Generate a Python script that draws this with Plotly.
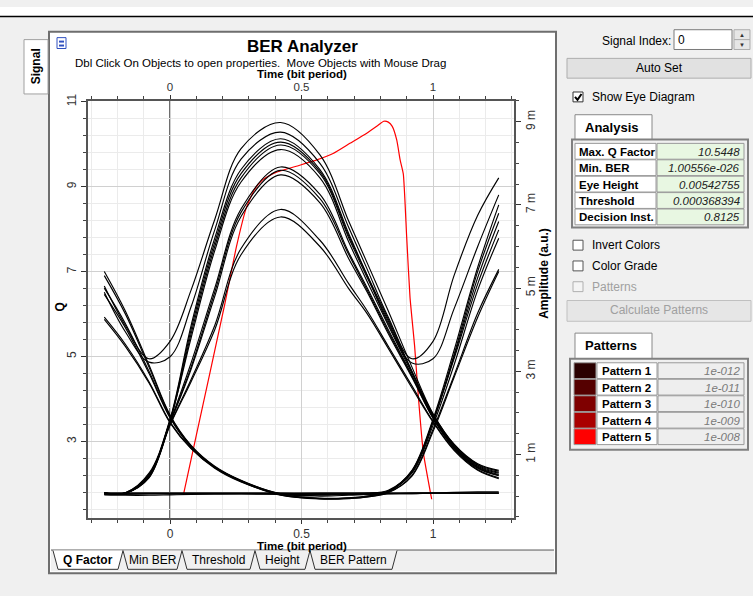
import plotly.graph_objects as go

W, H = 753, 596
FONT = "Liberation Sans, Arial, sans-serif"

# ---------------- data ----------------
t_grid = [-0.25, -0.17, -0.08, 0.0, 0.08, 0.17, 0.27, 0.42, 0.57, 0.68, 0.75, 0.83, 0.92, 1.0, 1.08, 1.17, 1.25]

# eye diagram traces (amplitude, milli-units) sampled at t_grid
eye_h1 = [5.05, 4.10, 3.30, 3.72, 4.95, 6.65, 8.35, 8.98, 8.20, 6.60, 5.60, 4.45, 3.10, 1.98, 1.25, 0.78, 0.62]
eye_h2 = [4.90, 3.95, 3.22, 3.35, 4.55, 6.40, 8.10, 8.75, 8.00, 6.45, 5.45, 4.30, 3.30, 3.72, 5.30, 6.75, 7.65]
eye_h3 = [0.07, 0.08, 0.55, 1.85, 4.10, 6.20, 7.85, 8.59, 7.85, 6.30, 5.30, 4.15, 3.20, 3.30, 4.50, 6.00, 7.24]
eye_h4 = [0.07, 0.07, 0.52, 1.82, 4.00, 6.10, 7.75, 8.51, 7.80, 6.25, 5.30, 4.25, 3.00, 1.97, 1.24, 0.76, 0.60]
eye_h5 = [0.06, 0.07, 0.50, 1.80, 3.90, 6.00, 7.65, 8.44, 7.75, 6.20, 5.25, 4.20, 2.98, 1.94, 1.22, 0.74, 0.57]
eye_h6 = [0.08, 0.08, 0.52, 1.82, 3.80, 5.90, 7.55, 8.33, 7.65, 6.10, 5.15, 4.10, 2.95, 1.92, 1.20, 0.72, 0.55]
eye_h7 = [0.07, 0.07, 0.48, 1.78, 3.20, 5.00, 6.90, 7.91, 7.25, 5.85, 5.00, 4.00, 2.90, 1.90, 1.18, 0.70, 0.52]
eye_h8 = [0.06, 0.07, 0.47, 1.76, 3.10, 4.90, 6.82, 7.83, 7.15, 5.80, 4.95, 3.95, 2.88, 1.88, 1.16, 0.68, 0.50]
eye_h9 = [0.08, 0.07, 0.47, 1.75, 3.05, 4.80, 6.72, 7.72, 7.05, 5.70, 4.90, 3.90, 2.85, 1.87, 1.15, 0.67, 0.49]
eye_h10 = [0.07, 0.07, 0.45, 1.72, 2.80, 4.10, 5.95, 6.89, 6.15, 5.10, 4.45, 3.60, 2.65, 1.80, 1.12, 0.64, 0.44]
eye_h11 = [0.07, 0.07, 0.44, 1.70, 2.75, 4.00, 5.80, 6.71, 6.00, 4.98, 4.38, 3.55, 2.60, 1.78, 1.10, 0.62, 0.42]
eye_n1 = [0.07, 0.07, 0.07, 0.07, 0.07, 0.07, 0.07, 0.07, 0.07, 0.07, 0.07, 0.07, 0.07, 0.07, 0.07, 0.07, 0.07]
eye_n2 = [0.03, 0.02, 0.02, 0.03, 0.04, 0.05, 0.06, 0.06, 0.07, 0.07, 0.07, 0.07, 0.08, 0.08, 0.09, 0.10, 0.10]
eye_n3 = [5.40, 4.45, 3.15, 1.95, 1.22, 0.72, 0.38, 0.05, -0.06, -0.05, 0.00, 0.12, 0.62, 1.85, 3.50, 5.50, 7.00]
eye_n4 = [5.00, 4.15, 3.00, 1.90, 1.20, 0.70, 0.37, 0.06, 0.00, 0.02, 0.04, 0.05, 0.06, 0.07, 0.07, 0.07, 0.07]
eye_n5 = [4.85, 4.05, 2.95, 1.88, 1.18, 0.70, 0.36, 0.03, -0.07, -0.06, -0.02, 0.10, 0.58, 1.78, 3.35, 5.25, 6.60]
eye_n6 = [4.30, 3.65, 2.75, 1.78, 1.15, 0.68, 0.35, 0.02, -0.06, -0.05, -0.02, 0.08, 0.50, 1.60, 2.90, 4.40, 5.45]
eye_n7 = [4.25, 3.60, 2.72, 1.76, 1.14, 0.67, 0.34, 0.05, 0.02, 0.04, 0.05, 0.06, 0.06, 0.07, 0.07, 0.07, 0.07]
eye_n8 = [0.07, 0.07, 0.07, 0.07, 0.07, 0.07, 0.07, 0.07, 0.06, 0.06, 0.07, 0.14, 0.60, 1.80, 3.40, 5.40, 6.80]
eye_n9 = [0.05, 0.05, 0.06, 0.06, 0.06, 0.06, 0.06, 0.05, 0.05, 0.05, 0.06, 0.12, 0.55, 1.70, 3.15, 4.95, 6.20]
eye_n10 = [0.04, 0.04, 0.05, 0.05, 0.05, 0.05, 0.05, 0.04, 0.04, 0.04, 0.05, 0.10, 0.48, 1.55, 2.85, 4.30, 5.40]
eye_n11 = [5.30, 4.38, 3.10, 1.93, 1.20, 0.70, 0.37, 0.04, -0.05, -0.04, 0.00, 0.11, 0.60, 1.80, 3.30, 5.10, 6.40]

# Q factor curve (red)
q_time = [0.052, 0.10, 0.15, 0.209, 0.253, 0.29, 0.32, 0.35, 0.40, 0.48, 0.558, 0.62, 0.684, 0.748, 0.79,
          0.8125, 0.83, 0.845, 0.862, 0.875, 0.887, 0.90, 0.9125, 0.93, 0.945, 0.963, 0.995]
q_value = [1.78, 3.15, 4.57, 6.26, 7.60, 8.50, 8.92, 9.15, 9.33, 9.48, 9.63, 9.78, 10.02, 10.26, 10.44,
           10.54, 10.52, 10.42, 10.10, 9.63, 9.30, 7.80, 6.40, 5.25, 4.00, 2.75, 1.64]

x_tick_vals = [0, 0.5, 1]
q_tick_vals = [3, 5, 7, 9, 11]
amp_tick_vals = [1, 3, 5, 7, 9]
amp_tick_text = ["1 m", "3 m", "5 m", "7 m", "9 m"]

analysis_labels = ["Max. Q Factor", "Min. BER", "Eye Height", "Threshold", "Decision Inst."]
analysis_values = ["10.5448", "1.00556e-026", "0.00542755", "0.000368394", "0.8125"]
pattern_labels = ["Pattern 1", "Pattern 2", "Pattern 3", "Pattern 4", "Pattern 5"]
pattern_bers = ["1e-012", "1e-011", "1e-010", "1e-009", "1e-008"]
pattern_colors = ["#2a0000", "#550000", "#7f0000", "#aa0000", "#ff0000"]
tab_labels = ["Q Factor", "Min BER", "Threshold", "Height", "BER Pattern"]

eye_traces = [eye_n1, eye_n2, eye_n3, eye_n4, eye_n5, eye_n6, eye_n7, eye_n8, eye_n9, eye_n10, eye_n11,
              eye_h1, eye_h2, eye_h3, eye_h4, eye_h5, eye_h6, eye_h7, eye_h8, eye_h9, eye_h10, eye_h11]

# ---------------- helpers (pixel -> paper) ----------------
shapes, annotations = [], []


def X(px):
    return px / W


def Y(py):
    return 1 - py / H


def box(x0, y0, x1, y1, fill, line=None, lw=1, layer="above"):
    shapes.append(dict(type="rect", xref="paper", yref="paper", x0=X(x0), x1=X(x1), y0=Y(y1), y1=Y(y0),
                       fillcolor=fill, line=dict(color=line if line else fill, width=lw if line else 0),
                       layer=layer))


def path(points, fill=None, line="#000", lw=1, closed=False, layer="above"):
    d = "M " + " L ".join(f"{X(x):.5f},{Y(y):.5f}" for x, y in points) + (" Z" if closed else "")
    s = dict(type="path", xref="paper", yref="paper", path=d, line=dict(color=line, width=lw), layer=layer)
    if fill:
        s["fillcolor"] = fill
    shapes.append(s)


def txt(s, px, py, size=12, color="#000", xa="center", ya="middle", angle=0):
    annotations.append(dict(text=s, x=X(px), y=Y(py), xref="paper", yref="paper", showarrow=False,
                            xanchor=xa, yanchor=ya, textangle=angle, borderpad=0,
                            font=dict(size=size, color=color, family=FONT)))


# ---------------- frame / UI ----------------
box(0, 0, W, 9, "#ffffff", layer="below")
path([(0, 9.5), (W, 9.5)], line="#000", lw=1.5)

# Signal tab
box(24, 33, 48, 88, "#ffffff", line="#a0a0a0")
txt("<b>Signal</b>", 36, 60, size=12, angle=-90)

# main panel
box(49, 25, 556, 573, "#ffffff", line="#6e6e6e", lw=2, layer="below")
box(51, 550, 554, 571, "#f0f0f0", layer="below")
path([(51, 549.5), (554, 549.5)], line="#555", lw=1)
# icon
box(57, 31, 66, 42, "#ffffff", line="#3050c0")
box(59, 34, 64, 36, "#3050c0")
box(59, 38, 64, 40, "#3050c0")

# bottom tabs
tab_edges = [53, 123, 182, 255, 310, 397]
for i, lab in enumerate(tab_labels):
    x0, x1 = tab_edges[i], tab_edges[i + 1]
    fill = "#ffffff" if i == 0 else "#f0f0f0"
    path([(x0, 550), (x0 + 5, 569), (x1 - 5, 569), (x1, 550)], fill=fill, line="#333", lw=1, closed=False)
    label = f"<b>{lab}</b>" if i == 0 else lab
    txt(label, (x0 + x1) / 2, 560, size=12, color="#000")

# titles
txt("<b>BER Analyzer</b>", 302, 40, size=17)
txt("Dbl Click On Objects to open properties.  Move Objects with Mouse Drag", 260, 57, size=11.5)
txt("<b>Time (bit period)</b>", 302, 68, size=11.5)
txt("<b>Time (bit period)</b>", 302, 545, size=11.5)
txt("<b>Q</b>", 60, 304, size=12, angle=-90)
txt("<b>Amplitude (a.u.)</b>", 544, 270, size=12, angle=-90)

# right panel
txt("Signal Index:", 672, 34, size=12, xa="right")
box(674, 23, 732, 43, "#ffffff", line="#7a7a7a")
txt("0", 677, 33, size=12, xa="left")
box(734, 23, 750, 33, "#e6e6e6", line="#adadad")
box(734, 33, 750, 43, "#e6e6e6", line="#adadad")
txt("▲", 742, 28.5, size=6, color="#333")
txt("▼", 742, 38, size=6, color="#333")

box(567, 52, 751, 72, "#e1e1e1", line="#adadad")
txt("Auto Set", 659, 62, size=12)

box(573, 86, 583, 96, "#ffffff", line="#333")
path([(575, 91), (577.5, 94), (581.5, 88)], line="#000", lw=2)
txt("Show Eye Diagram", 591, 91, size=12, xa="left")

# Analysis tab + table
path([(575, 134), (575, 109), (652, 109), (652, 134)], fill="#ffffff", line="#888", lw=1)
txt("<b>Analysis</b>", 611, 122, size=13)
box(572, 134, 748, 223, "#f0f0f0", line="#808080", lw=2)
for i, (lab, val) in enumerate(zip(analysis_labels, analysis_values)):
    y0 = 138 + i * 16.6
    box(575, y0, 656, y0 + 16, "#ffffff", line="#9a9a9a")
    box(657, y0, 744, y0 + 16, "#e8f7e2", line="#9a9a9a")
    txt(f"<b>{lab}</b>", 578, y0 + 8.5, size=11.5, xa="left")
    txt(f"<i>{val}</i>", 741, y0 + 8.5, size=11.5, xa="right", color="#222")

# checkboxes
for lab, yy, col in [("Invert Colors", 241, "#000"), ("Color Grade", 262, "#000"), ("Patterns", 283, "#a0a0a0")]:
    box(573, yy - 5, 583, yy + 5, "#ffffff" if col == "#000" else "#f4f4f4", line="#555" if col == "#000" else "#b0b0b0")
    txt(lab, 591, yy, size=12, xa="left", color=col)

box(567, 297, 751, 318, "#e6e6e6", line="#c0c0c0")
txt("Calculate Patterns", 659, 307, size=12, color="#a0a0a0")

# Patterns tab + table
path([(575, 356), (575, 330), (652, 330), (652, 356)], fill="#ffffff", line="#888", lw=1)
txt("<b>Patterns</b>", 611, 343, size=13)
box(570, 356, 748, 448, "#f0f0f0", line="#808080", lw=2)
for i, (lab, ber, col) in enumerate(zip(pattern_labels, pattern_bers, pattern_colors)):
    y0 = 360 + i * 16.7
    box(574, y0, 596, y0 + 16, col, line="#9a9a9a")
    box(597, y0, 657, y0 + 16, "#ffffff", line="#9a9a9a")
    box(658, y0, 744, y0 + 16, "#eeeeee", line="#9a9a9a")
    txt(f"<b>{lab}</b>", 601, y0 + 8.5, size=11.5, xa="left")
    txt(f"<i>{ber}</i>", 741, y0 + 8.5, size=11.5, xa="right", color="#7a7a7a")

# vertical line at t = 0
shapes.append(dict(type="line", xref="x", yref="paper", x0=0, x1=0, y0=Y(517), y1=Y(95),
                   line=dict(color="#333", width=1.5), layer="below"))

# ---------------- traces ----------------
fig = go.Figure()
for vals in eye_traces:
    fig.add_trace(go.Scatter(x=t_grid, y=vals, mode="lines", yaxis="y2", hoverinfo="skip", showlegend=False,
                             line=dict(color="#000", width=1.15, shape="spline", smoothing=1.0)))
fig.add_trace(go.Scatter(x=q_time, y=q_value, mode="lines", hoverinfo="skip", showlegend=False,
                         line=dict(color="#ff0000", width=1.2, shape="spline", smoothing=0.5)))
fig.add_trace(go.Scatter(x=[0.5], y=[5], xaxis="x2", mode="markers", marker=dict(opacity=0),
                         hoverinfo="skip", showlegend=False))

xdom = [X(88), X(514)]
ydom = [Y(517), Y(95)]
tickfont = dict(size=12, color="#333", family=FONT)
xcommon = dict(range=[-0.312, 1.308], tickvals=x_tick_vals, ticktext=["0", "0.5", "1"],
               ticks="outside", ticklen=4, tickcolor="#333", zeroline=False,
               showline=True, linecolor="#555", linewidth=1.5)

fig.update_layout(
    width=W, height=H, margin=dict(l=0, r=0, t=0, b=0),
    paper_bgcolor="#f0f0f0", plot_bgcolor="#ffffff",
    showlegend=False, shapes=shapes, annotations=annotations,
    xaxis=dict(domain=xdom, anchor="y", side="bottom", showgrid=True, gridcolor="#d0d0d0", gridwidth=1,
               tickfont=tickfont,
               minor=dict(tickmode="linear", tick0=0, dtick=0.1, ticks="outside", ticklen=3, tickcolor="#444",
                          showgrid=True, gridcolor="#ebebeb"), **xcommon),
    xaxis2=dict(domain=xdom, anchor="y", overlaying="x", side="top", showgrid=False,
                tickfont=dict(size=11.5, color="#333", family=FONT),
                minor=dict(tickmode="linear", tick0=0, dtick=0.1, ticks="outside", ticklen=3, tickcolor="#444",
                           showgrid=False), **xcommon),
    yaxis=dict(domain=ydom, anchor="x", range=[1.2, 11.02], tickvals=q_tick_vals, tickangle=-90,
               ticks="outside", ticklen=5, tickcolor="#333", tickfont=tickfont, zeroline=False,
               showline=True, linecolor="#555", linewidth=1.5, mirror=False,
               showgrid=True, gridcolor="#d0d0d0",
               minor=dict(tickmode="linear", tick0=1, dtick=0.4, ticks="outside", ticklen=3, tickcolor="#444",
                          showgrid=True, gridcolor="#ebebeb")),
    yaxis2=dict(domain=ydom, anchor="x", overlaying="y", side="right", range=[-0.525, 9.5],
                tickvals=amp_tick_vals, ticktext=amp_tick_text, tickangle=-90,
                ticks="outside", ticklen=5, tickcolor="#333", tickfont=tickfont, zeroline=False,
                showline=True, linecolor="#555", linewidth=1.5, showgrid=False,
                minor=dict(tickmode="linear", tick0=0, dtick=0.5, ticks="outside", ticklen=3, tickcolor="#444")),
)

fig.write_html("out.html", config={"displayModeBar": False},
               post_script="document.body.style.margin='0';document.body.style.overflow='hidden';")
